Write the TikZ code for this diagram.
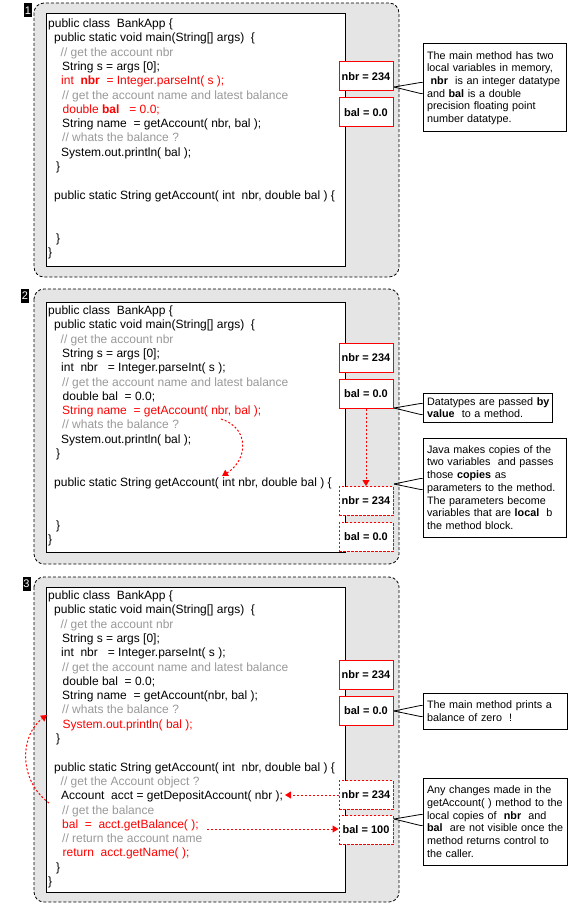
\documentclass[tikz,border=0pt]{standalone}
\usepackage{fontspec}
\setmainfont{Liberation Sans}
\usepackage{tikz}
\usetikzlibrary{positioning}
\usetikzlibrary{calc,arrows.meta}

\definecolor{panelgray}{RGB}{229,229,229}
\definecolor{cmtgray}{RGB}{153,153,153}
\definecolor{hotred}{RGB}{255,0,0}

\newcommand{\cmt}[1]{\textcolor{cmtgray}{#1}}
\newcommand{\hot}[1]{\textcolor{hotred}{#1}}
\newcommand{\ind}[1]{\hspace*{#1pt}}

\tikzset{
  panel/.style={draw, fill=panelgray, line width=0.8pt, dash pattern=on 3pt off 2pt, rounded corners=10pt},
  codebox/.style={draw, fill=white, line width=1pt, minimum width=299pt, inner sep=0pt},
  src/.style={anchor=north west, inner sep=0pt, align=left, font=\fontsize{12}{14.3}\selectfont},
  varbox/.style={draw=hotred, fill=white, line width=1pt, minimum width=54pt, minimum height=29pt, inner sep=0pt, font=\fontsize{11}{13}\selectfont\bfseries},
  copybox/.style={varbox, dash pattern=on 2.5pt off 1.5pt},
  note/.style={draw, fill=white, line width=1pt, align=left, inner xsep=4pt, inner ysep=0pt, font=\fontsize{10.8}{12.7}\selectfont},
  flow/.style={draw=hotred, line width=1pt, dash pattern=on 2pt off 2pt, -{Triangle[length=6pt,width=7pt]}},
  tag/.style={fill=black, text=white, inner sep=0pt, minimum width=8pt, minimum height=14pt, font=\fontsize{11}{11}\selectfont},
  pointer/.style={draw, line width=0.8pt}
}

\begin{document}
\begin{tikzpicture}[x=1pt, y=-1pt]
\useasboundingbox (0,0) rectangle (569,904);

% panel 1 : both locals live in main
\draw[panel] (34,3) rectangle (399,277);
\node[tag] (tag1) at (28,10.5) {1};
\node[codebox, minimum height=252pt] (code1) at (195.5,140) {};
\node[src] (src1) at (48,17.3) {\strut public class~~BankApp~\{\\
\ind{6}public static void main(String[] args)~~\{\\
\ind{12.5}\cmt{// get the account nbr}\\
\ind{14}String s = args [0];\\
\ind{13}\hot{int~~\textbf{nbr}~~= Integer.parseInt( s );}\\
\ind{14}\cmt{// get the account name and latest balance}\\
\ind{14.5}\hot{double \textbf{bal}~~~= 0.0;}\\
\ind{14}String name~~= getAccount( nbr, bal );\\
\ind{14}\cmt{// whats the balance ?}\\
\ind{13}System.out.println( bal );\\
\ind{8}\}\\
{}\\
\ind{6}public static String getAccount( int~~nbr, double bal ) \{\\
{}\\
{}\\
\ind{8}\}\\
\}};
\node[varbox] (nbr1) at (366,76.5) {nbr = 234};
\node[varbox] (bal1) at (366,112.5) {bal = 0.0};

% panel 2 : the call copies the values
\draw[panel] (34,289) rectangle (399,564);
\node[tag] (tag2) at (25,296) {2};
\node[codebox, minimum height=250pt] (code2) at (195.5,427) {};
\node[src] (src2) at (48,304.3) {\strut public class~~BankApp~\{\\
\ind{6}public static void main(String[] args)~~\{\\
\ind{12.5}\cmt{// get the account nbr}\\
\ind{14}String s = args [0];\\
\ind{13}int~~nbr~~~= Integer.parseInt( s );\\
\ind{14}\cmt{// get the account name and latest balance}\\
\ind{14.5}double bal~~= 0.0;\\
\ind{14}\hot{String name~~= getAccount( nbr, bal );}\\
\ind{14}\cmt{// whats the balance ?}\\
\ind{13}System.out.println( bal );\\
\ind{8}\}\\
{}\\
\ind{6}public static String getAccount( int nbr, double bal ) \{\\
{}\\
{}\\
\ind{8}\}\\
\}};
\node[varbox] (nbr2) at (366,358) {nbr = 234};
\node[varbox] (bal2) at (366,394) {bal = 0.0};
\node[copybox] (dnbr2) at (366,501) {nbr = 234};
\node[copybox] (dbal2) at (366,537) {bal = 0.0};
\coordinate (cs2) at (221,419);
\coordinate (ce2) at (222,476);
\draw[flow] (cs2) .. controls (250,428) and (248,460) .. (ce2);
\draw[flow] (bal2.south) -- (dnbr2.north);

% panel 3 : changes stay local
\draw[panel] (34,577) rectangle (399,902);
\node[tag] (tag3) at (26.5,583.5) {3};
\node[codebox, minimum height=305pt] (code3) at (195.5,739.5) {};
\node[src] (src3) at (48,589.3) {\strut public class~~BankApp~\{\\
\ind{6}public static void main(String[] args)~~\{\\
\ind{12.5}\cmt{// get the account nbr}\\
\ind{14}String s = args [0];\\
\ind{13}int~~nbr~~~= Integer.parseInt( s );\\
\ind{14}\cmt{// get the account name and latest balance}\\
\ind{14.5}double bal~~= 0.0;\\
\ind{14}String name~~= getAccount(nbr, bal );\\
\ind{14}\cmt{// whats the balance ?}\\
\ind{14.5}\hot{System.out.println( bal );}\\
\ind{8}\}\\
{}\\
\ind{6}public static String getAccount( int~~nbr, double bal ) \{\\
\ind{12.5}\cmt{// get the Account object ?}\\
\ind{13}Account~~acct = getDepositAccount( nbr );\\
\ind{14}\cmt{// get the balance}\\
\ind{14}\hot{bal~~=~~acct.getBalance( );}\\
\ind{14}\cmt{// return the account name}\\
\ind{14.5}\hot{return~~acct.getName( );}\\
\ind{8}\}\\
\}};
\node[varbox] (nbr3) at (366,675) {nbr = 234};
\node[varbox] (bal3) at (366,711) {bal = 0.0};
\node[copybox] (dnbr3) at (366,795) {nbr = 234};
\node[copybox] (dbal3) at (366,830) {bal = 100};
\coordinate (cs3) at (49,803);
\coordinate (ce3) at (47,715);
\draw[flow] (cs3) .. controls (18,780) and (20,735) .. (ce3);
\coordinate (ac3) at (285,795);
\draw[flow] (dnbr3.west) -- (ac3);
\coordinate (bs3) at (207,829);
\draw[flow] (bs3) -- (bs3 -| dbal3.west);

% callouts
\node[note, text width=135pt, minimum height=88pt] (note1) at (494.5,88)
  {The main method has two\\local variables in memory,\\\mbox{~\textbf{nbr}~~is an integer datatype}\\and \textbf{bal} is a double\\precision floating point\\number datatype.};
\node[note, text width=121pt, minimum height=29pt] (note2a) at (487.5,407.5)
  {\mbox{Datatypes are passed \textbf{by}}\\\textbf{value}~~to a method.};
\node[note, text width=135pt, minimum height=99pt] (note2b) at (494.5,487.5)
  {Java makes copies of the\\two variables~~and passes\\those \textbf{copies}~as\\parameters to the method.\\The parameters become\\variables that are \textbf{local}~~b\\the method block.};
\node[note, text width=136pt, minimum height=36pt] (note3a) at (495,711)
  {The main method prints a\\balance of zero~~!};
\node[note, text width=136pt, minimum height=87pt] (note3b) at (495,821.5)
  {Any changes made in the\\\mbox{getAccount(~) method to the}\\local copies of~~\textbf{nbr}~~and\\\mbox{\textbf{bal}~~are not visible once the}\\method returns control to\\the caller.};

% callout pointers
\coordinate (tip1) at (394,87);
\coordinate (tip2a) at (394,408);
\coordinate (tip2b) at (394,484);
\coordinate (tip3a) at (394,711);
\coordinate (tip3b) at (394,819);
\foreach \t/\n/\d in {tip1/note1/0, tip2a/note2a/1.5, tip2b/note2b/-3.5, tip3a/note3a/0, tip3b/note3b/-1.5}{
  \draw[pointer] (\t) -- ($(\n.west)+(-2,\d-5.5)$) -- ($(\n.west)+(0,\d-5.5)$);
  \draw[pointer] (\t) -- ($(\n.west)+(-2,\d+5.5)$) -- ($(\n.west)+(0,\d+5.5)$);
}
\end{tikzpicture}
\end{document}
